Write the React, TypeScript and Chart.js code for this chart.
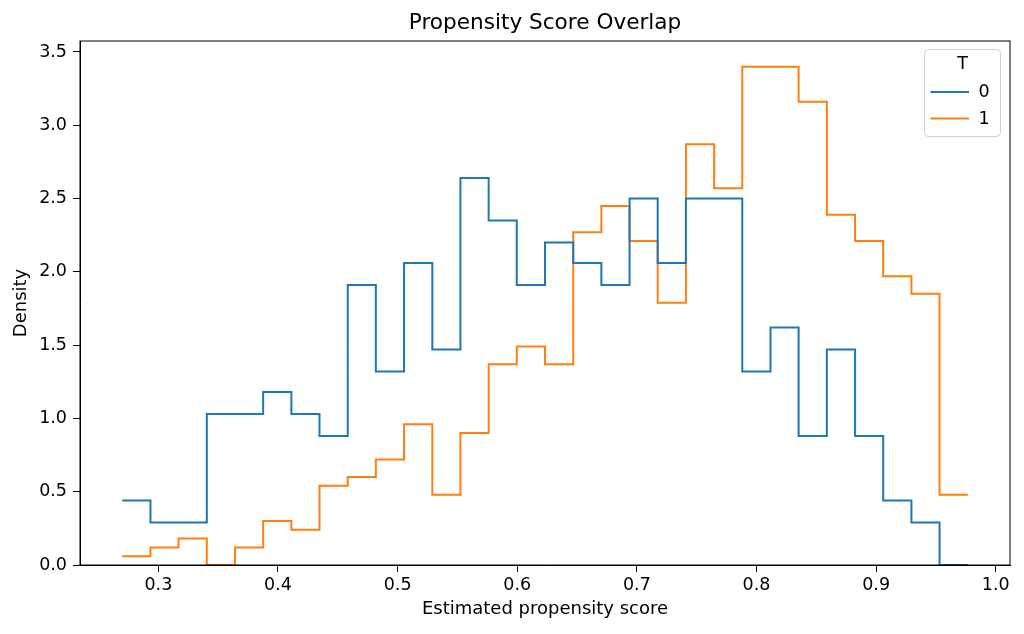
import { useEffect, useRef } from 'react'
import { Chart, registerables } from 'chart.js'

Chart.register(...registerables)

// histogram bin edges (30 bins) and densities per treatment group
const BIN_EDGES = [
  0.2698, 0.2934, 0.3169, 0.3405, 0.364, 0.3876, 0.4112, 0.4347, 0.4583, 0.4818,
  0.5054, 0.529, 0.5525, 0.5761, 0.5996, 0.6232, 0.6468, 0.6703, 0.6939, 0.7174,
  0.741, 0.7646, 0.7881, 0.8117, 0.8352, 0.8588, 0.8824, 0.9059, 0.9295, 0.953,
  0.9766,
]
const DENSITY_T0 = [
  0.44, 0.29, 0.29, 1.03, 1.03, 1.18, 1.03, 0.88, 1.91, 1.32,
  2.06, 1.47, 2.64, 2.35, 1.91, 2.2, 2.06, 1.91, 2.5, 2.06,
  2.5, 2.5, 1.32, 1.62, 0.88, 1.47, 0.88, 0.44, 0.29, 0,
]
const DENSITY_T1 = [
  0.06, 0.12, 0.18, 0, 0.12, 0.3, 0.24, 0.54, 0.6, 0.72,
  0.96, 0.48, 0.9, 1.37, 1.49, 1.37, 2.27, 2.45, 2.21, 1.79,
  2.87, 2.57, 3.4, 3.4, 3.16, 2.39, 2.21, 1.97, 1.85, 0.48,
]
const GROUP_LABELS = ['0', '1']
const GROUP_COLORS = ['#1f77b4', '#ff7f0e']
const X_TICKS = [0.3, 0.4, 0.5, 0.6, 0.7, 0.8, 0.9, 1.0]
const Y_TICKS = [0, 0.5, 1.0, 1.5, 2.0, 2.5, 3.0, 3.5]
const TITLE = 'Propensity Score Overlap'

const FONT = "'DejaVu Sans', sans-serif"

// one point per left edge, plus the closing right edge
function stepPoints(values: number[]) {
  return BIN_EDGES.map((x, i) => ({ x, y: values[Math.min(i, values.length - 1)] }))
}

// title centred over the axes, axes frame, legend in the upper right
const frameAndLegend = {
  id: 'frameAndLegend',
  afterDraw(chart: any) {
    const { ctx, chartArea } = chart
    ctx.save()

    ctx.fillStyle = '#000'
    ctx.font = `21.6px ${FONT}`
    ctx.textAlign = 'center'
    ctx.textBaseline = 'alphabetic'
    ctx.fillText(TITLE, (chartArea.left + chartArea.right) / 2, 28.5)

    ctx.strokeStyle = '#000'
    ctx.lineWidth = 1
    ctx.strokeRect(chartArea.left, chartArea.top, chartArea.right - chartArea.left, chartArea.bottom - chartArea.top)

    const w = 76
    const h = 87
    const x = chartArea.right - 9.5 - w
    const y = chartArea.top + 8.5
    ctx.beginPath()
    ctx.roundRect(x, y, w, h, 4)
    ctx.fillStyle = 'rgba(255,255,255,0.8)'
    ctx.fill()
    ctx.strokeStyle = '#d0d0d0'
    ctx.stroke()

    ctx.fillStyle = '#000'
    ctx.font = `17.5px ${FONT}`
    ctx.textBaseline = 'middle'
    ctx.textAlign = 'center'
    ctx.fillText('T', x + w / 2, y + 15)

    chart.data.datasets.forEach((ds: any, i: number) => {
      const ly = y + 42.5 + i * 26.6
      ctx.beginPath()
      ctx.moveTo(x + 6, ly)
      ctx.lineTo(x + 44.5, ly)
      ctx.strokeStyle = ds.borderColor
      ctx.lineWidth = 2
      ctx.stroke()
      ctx.fillStyle = '#000'
      ctx.textAlign = 'left'
      ctx.fillText(ds.label, x + 54, ly + 0.5)
    })
    ctx.restore()
  },
}

export default function App() {
  const canvasRef = useRef<HTMLCanvasElement>(null)
  const chartRef = useRef<Chart | null>(null)

  useEffect(() => {
    if (!canvasRef.current) return
    if (chartRef.current) chartRef.current.destroy()

    chartRef.current = new Chart(canvasRef.current, {
      type: 'line',
      data: {
        datasets: [
          {
            label: GROUP_LABELS[0],
            data: stepPoints(DENSITY_T0),
            borderColor: GROUP_COLORS[0],
            borderWidth: 2,
            stepped: true,
            pointRadius: 0,
            fill: false,
          },
          {
            label: GROUP_LABELS[1],
            data: stepPoints(DENSITY_T1),
            borderColor: GROUP_COLORS[1],
            borderWidth: 2,
            stepped: true,
            pointRadius: 0,
            fill: false,
          },
        ],
      },
      options: {
        animation: false,
        responsive: true,
        maintainAspectRatio: false,
        layout: { padding: { left: 0, right: 14, top: 41, bottom: 0 } },
        plugins: {
          legend: { display: false },
          tooltip: { enabled: false },
          title: { display: false },
        },
        scales: {
          x: {
            type: 'linear',
            min: 0.2345,
            max: 1.0119,
            afterBuildTicks: (s: any) => {
              s.ticks = X_TICKS.map((value) => ({ value }))
            },
            afterFit: (s: any) => {
              s.height = 69
            },
            grid: { drawOnChartArea: false, drawTicks: true, tickLength: 7, color: '#000' },
            border: { color: '#000', width: 1 },
            ticks: {
              color: '#000',
              font: { family: FONT, size: 17.5 },
              padding: 3,
              maxRotation: 0,
              callback: (v: any) => Number(v).toFixed(1),
            },
            title: {
              display: true,
              text: 'Estimated propensity score',
              color: '#000',
              font: { family: FONT, size: 18 },
              padding: { top: 0, bottom: 13.5 },
            },
          },
          y: {
            type: 'linear',
            min: 0,
            max: 3.575,
            afterBuildTicks: (s: any) => {
              s.ticks = Y_TICKS.map((value) => ({ value }))
            },
            afterFit: (s: any) => {
              s.width = 80
            },
            grid: { drawOnChartArea: false, drawTicks: true, tickLength: 7, color: '#000' },
            border: { color: '#000', width: 1 },
            ticks: {
              color: '#000',
              font: { family: FONT, size: 17.5 },
              padding: 6,
              callback: (v: any) => Number(v).toFixed(1),
            },
            title: {
              display: true,
              text: 'Density',
              color: '#000',
              font: { family: FONT, size: 18 },
              padding: { top: 11, bottom: 0 },
            },
          },
        },
      },
      plugins: [frameAndLegend],
    } as any)

    return () => {
      if (chartRef.current) {
        chartRef.current.destroy()
        chartRef.current = null
      }
    }
  }, [])

  return (
    <div style={{ position: 'absolute', left: 0, top: 0, width: 1024, height: 634, background: '#fff' }}>
      <canvas ref={canvasRef} />
    </div>
  )
}
